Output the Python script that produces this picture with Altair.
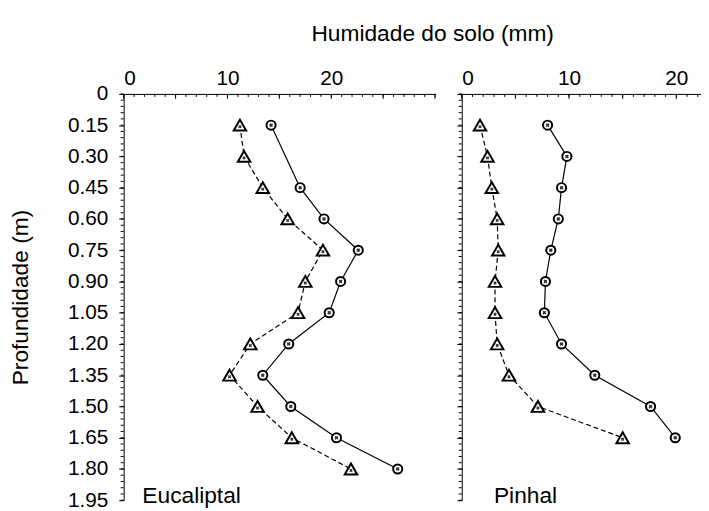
import altair as alt
import pandas as pd

FONT = "Liberation Sans"

# ---- data ----
depth = [0.15, 0.30, 0.45, 0.60, 0.75, 0.90, 1.05, 1.20, 1.35, 1.50, 1.65, 1.80]

euc_circ_depth = [0.15, 0.45, 0.60, 0.75, 0.90, 1.05, 1.20, 1.35, 1.50, 1.65, 1.80]
euc_circ = [14.2, 17.0, 19.3, 22.6, 20.9, 19.8, 15.9, 13.4, 16.1, 20.5, 26.4]
euc_tri_depth = depth
euc_tri = [11.2, 11.6, 13.4, 15.8, 19.2, 17.5, 16.8, 12.2, 10.2, 12.9, 16.2, 21.9]

pin_depth = depth[:11]
pin_circ = [8.0, 9.8, 9.3, 9.0, 8.3, 7.8, 7.7, 9.3, 12.4, 17.6, 19.9]
pin_tri = [1.7, 2.4, 2.8, 3.3, 3.4, 3.1, 3.1, 3.3, 4.4, 7.1, 15.0]

y_ticks = [0, 0.15, 0.30, 0.45, 0.60, 0.75, 0.90, 1.05, 1.20, 1.35, 1.50, 1.65, 1.80, 1.95]
y_minor = [round(i * 0.03, 2) for i in range(66)]
x_ticks = [0, 10, 20]

panel_names = ["Eucaliptal", "Pinhal"]
panel_label_x = [1.8, 3.0]
panel_label_y = [1.95, 1.95]


def panel(cd, cv, td, tv, xmax, width, name, name_x, name_y, left):
    xs = alt.Scale(domain=[0, xmax], nice=False, zero=False)
    ys = alt.Scale(domain=[0, 1.95], reverse=True, nice=False, zero=False)

    xaxis = alt.Axis(values=x_ticks, orient="top", format="d", ticks=False,
                     labelFontSize=21, labelFont=FONT, labelPadding=6,
                     domainColor="black", labelColor="black", title="",
                     grid=False)
    ykw = dict(values=y_ticks, orient="left", tickSize=5, tickColor="black",
               domainColor="black", grid=False,
               labelExpr="datum.value == 0 ? '0' : format(datum.value, '.2f')")
    if left:
        ykw.update(labels=True, labelFontSize=21, labelFont=FONT,
                   labelColor="black", labelPadding=11,
                   title="Profundidade (m)", titleFontSize=23,
                   titleFont=FONT, titleFontWeight="normal",
                   titleColor="black", titlePadding=35)
    else:
        ykw.update(labels=False, title="")
    yaxis = alt.Axis(**ykw)

    cdf = pd.DataFrame({"d": cd, "v": cv})
    tdf = pd.DataFrame({"d": td, "v": tv})

    X = alt.X("v:Q", scale=xs, axis=xaxis)
    Y = alt.Y("d:Q", scale=ys, axis=yaxis)

    c_line = alt.Chart(cdf).mark_line(color="black", strokeWidth=1.2).encode(
        x=X, y=Y, order="d:Q")
    t_line = alt.Chart(tdf).mark_line(color="black", strokeWidth=1.2,
                                      strokeDash=[5, 3]).encode(
        x=X, y=Y, order="d:Q")
    c_pts = alt.Chart(cdf).mark_point(shape="circle", filled=True, fill="white",
                                      stroke="black", strokeWidth=2,
                                      size=85, opacity=1).encode(x=X, y=Y)
    c_in = alt.Chart(cdf).mark_point(shape="cross", filled=True, color="#333",
                                     size=16, angle=45, opacity=1).encode(x=X, y=Y)
    t_pts = alt.Chart(tdf).mark_point(shape="triangle-up", filled=True,
                                      fill="white", stroke="black",
                                      strokeWidth=2, size=160,
                                      opacity=1).encode(x=X, y=Y)
    t_in = alt.Chart(tdf).mark_point(shape="cross", filled=True, color="#333",
                                     size=12, angle=45, opacity=1,
                                     yOffset=1.5).encode(x=X, y=Y)

    ymin_df = pd.DataFrame({"d": y_minor})
    y_minor_r = alt.Chart(ymin_df).mark_rule(color="black", strokeWidth=1).encode(
        y=Y, x=alt.value(0), x2=alt.value(-3))
    xmin_df = pd.DataFrame({"v": list(range(0, int(xmax) + 1))})
    x_minor_r = alt.Chart(xmin_df).mark_rule(color="black", strokeWidth=1).encode(
        x=X, y=alt.value(0), y2=alt.value(3))
    xmaj_df = pd.DataFrame({"v": list(range(0, int(xmax) + 1, 5))})
    x_major_r = alt.Chart(xmaj_df).mark_rule(color="black", strokeWidth=1).encode(
        x=X, y=alt.value(0), y2=alt.value(5))

    lab_df = pd.DataFrame({"v": [name_x], "d": [name_y], "t": [name]})
    lab = alt.Chart(lab_df).mark_text(align="left", baseline="alphabetic",
                                      fontSize=23, font=FONT, color="black",
                                      dy=3).encode(x=X, y=Y, text="t:N")

    return alt.layer(c_line, t_line, y_minor_r, x_minor_r, x_major_r,
                     c_pts, c_in, t_pts, t_in, lab).properties(
        width=width, height=411)


left = panel(euc_circ_depth, euc_circ, euc_tri_depth, euc_tri, 30, 315,
             panel_names[0], panel_label_x[0], panel_label_y[0], True)
right = panel(pin_depth, pin_circ, pin_depth, pin_tri, 22.3, 242,
              panel_names[1], panel_label_x[1], panel_label_y[1], False)

chart = alt.hconcat(left, right, spacing=20).properties(
    title=alt.TitleParams("Humidade do solo  (mm)", fontSize=23, font=FONT,
                          fontWeight="normal", color="black", anchor="middle",
                          dx=78, offset=22),
    padding={"left": 2, "top": 12, "right": 0, "bottom": 0},
).configure_view(stroke=None).configure_axis(domainWidth=1)

chart.save("out.html", embed_options={"renderer": "svg", "actions": False})
